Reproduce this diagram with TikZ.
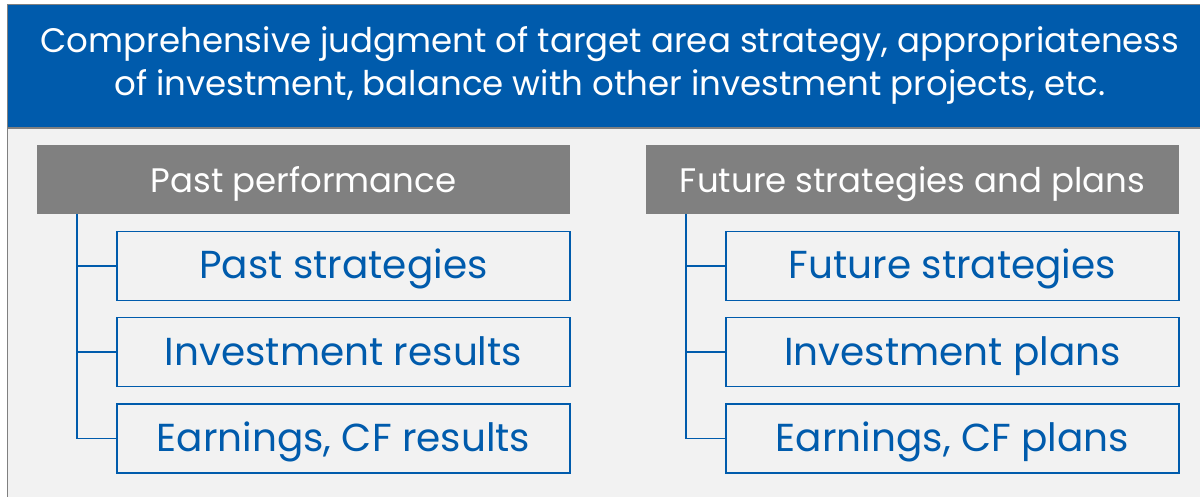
\documentclass[tikz,border=0pt]{standalone}
\usepackage{fontspec}
\setmainfont{Poppins}
\definecolor{hblue}{HTML}{005BAC}
\definecolor{hgray}{HTML}{808080}
\definecolor{bgray}{HTML}{F2F2F2}
\begin{document}
\begin{tikzpicture}[x=1pt,y=-1pt,
  headbox/.style={fill=hgray,draw=none,text=white,font=\fontsize{34}{40}\selectfont,inner sep=0pt,
    minimum width=533pt,text height=48pt,text depth=21pt},
  itembox/.style={fill=bgray,draw=hblue,line width=1.6pt,text=hblue,font=\fontsize{39}{44}\selectfont,inner sep=0pt,
    minimum width=453pt,text height=47.5pt,text depth=21.5pt},
  conn/.style={draw=hblue,line width=1.3pt}]
\useasboundingbox (0,0) rectangle (1200,497);
\fill[white] (0,0) rectangle (1200,497);
\fill[bgray] (8,5) rectangle (1200,497);
\draw[hgray,line width=1.6pt] (7.5,497) -- (7.5,4.5) -- (1200,4.5);
\fill[hblue] (8,5) rectangle (1200,127);
\draw[hgray,line width=2pt] (8,128) -- (1200,128);
\node[text=white,align=center,font=\fontsize{34}{43}\selectfont,inner sep=0pt] (title) at (610,65)
  {Comprehensive judgment of target area strategy, appropriateness\\of investment, balance with other investment projects, etc.};
% left column
\node[headbox] (lh) at (303.5,179.5) {Past performance};
\node[itembox] (l1) at (343.5,266) {Past strategies};
\node[itembox] (l2) at (343.5,352) {Investment results};
\node[itembox] (l3) at (343.5,438.5) {Earnings, CF results};
\coordinate (lt) at (77,214);
\draw[conn] (lt) |- (l3.west);
\draw[conn] (lt |- l1.west) -- (l1.west);
\draw[conn] (lt |- l2.west) -- (l2.west);
% right column
\node[headbox] (rh) at (912.5,179.5) {Future strategies and plans};
\node[itembox] (r1) at (952.5,266) {Future strategies};
\node[itembox] (r2) at (952.5,352) {Investment plans};
\node[itembox] (r3) at (952.5,438.5) {Earnings, CF plans};
\coordinate (rt) at (686,214);
\draw[conn] (rt) |- (r3.west);
\draw[conn] (rt |- r1.west) -- (r1.west);
\draw[conn] (rt |- r2.west) -- (r2.west);
\end{tikzpicture}
\end{document}
